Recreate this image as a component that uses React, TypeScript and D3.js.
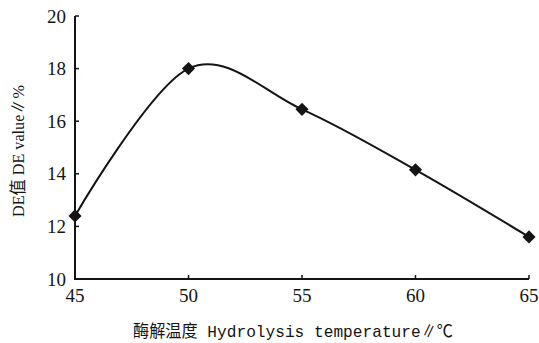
import React from "react";
import * as d3 from "d3";

// temperature (°C) vs DE value (%)
const temps = [45, 50, 55, 60, 65];
const deValues = [12.4, 18.0, 16.45, 14.15, 11.6];
const xTicks = [45, 50, 55, 60, 65];
const yTicks = [10, 12, 14, 16, 18, 20];

const width = 539;
const height = 343;
const margin = { top: 16, right: 10, bottom: 64, left: 75 };

const App = () => {
  const innerW = 529 - margin.left;
  const innerH = 279 - margin.top;

  const x = d3.scaleLinear().domain([45, 65]).range([0, innerW]);
  const y = d3.scaleLinear().domain([10, 20]).range([innerH, 0]);

  const pts: [number, number][] = temps.map((t, i) => [x(t), y(deValues[i])]);
  const line = d3.line().curve(d3.curveCardinal.tension(0))(pts) || "";
  const diamond = d3.symbol(d3.symbolDiamond2, 110)() || "";

  const ink = "#141414";
  const serif = "'Liberation Serif', 'Times New Roman', serif";

  return (
    <div
      style={{
        position: "fixed",
        left: 0,
        top: 0,
        width,
        height,
        background: "#fff",
        overflow: "hidden",
      }}
    >
      <svg width={width} height={height} style={{ display: "block" }}>
        <g transform={`translate(${margin.left},${margin.top})`}>
          {/* axes */}
          <path
            d={`M0,0V${innerH}H${innerW}`}
            fill="none"
            stroke={ink}
            strokeWidth={2}
          />
          {yTicks.map((t) => (
            <g key={t} transform={`translate(0,${y(t)})`}>
              {t !== 10 && <line x1={0} x2={4} stroke={ink} strokeWidth={1.5} />}
              <text
                x={-9}
                dy="0.35em"
                textAnchor="end"
                fontFamily={serif}
                fontSize={19}
                fill={ink}
              >
                {t}
              </text>
            </g>
          ))}
          {xTicks.map((t) => (
            <g key={t} transform={`translate(${x(t)},${innerH})`}>
              {t !== 45 && <line y1={0} y2={-4} stroke={ink} strokeWidth={1.5} />}
              <text
                y={23}
                textAnchor="middle"
                fontFamily={serif}
                fontSize={19}
                fill={ink}
              >
                {t}
              </text>
            </g>
          ))}

          {/* series */}
          <path d={line} fill="none" stroke={ink} strokeWidth={2} />
          {pts.map(([px, py], i) => (
            <path key={i} d={diamond} transform={`translate(${px},${py})`} fill={ink} />
          ))}
        </g>

        {/* axis titles */}
        <text
          x={293}
          y={337}
          textAnchor="middle"
          fontFamily="'Liberation Mono', 'Noto Sans CJK SC', monospace"
          fontSize={17}
          fill={ink}
          textLength={320}
          lengthAdjust="spacingAndGlyphs"
        >
          酶解温度 Hydrolysis temperature∥℃
        </text>
        <text
          transform="translate(24,151) rotate(-90)"
          textAnchor="middle"
          fontFamily="'Liberation Serif', 'Noto Sans CJK SC', serif"
          fontSize={17}
          fill={ink}
          textLength={132}
          lengthAdjust="spacingAndGlyphs"
        >
          DE值 DE value∥%
        </text>
      </svg>
    </div>
  );
};

export default App;
